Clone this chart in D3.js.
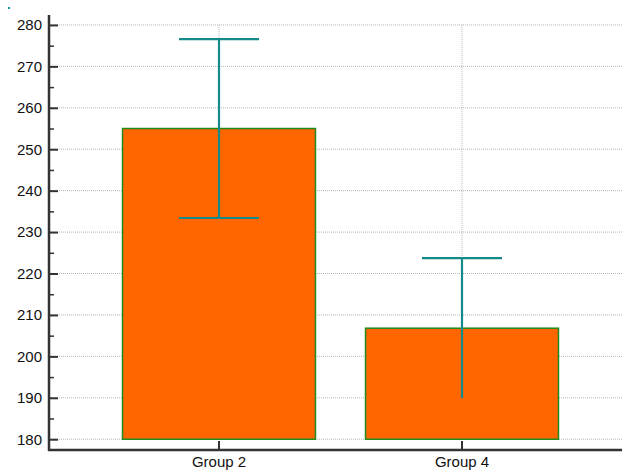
<!DOCTYPE html>
<html>
<head>
<meta charset="utf-8">
<script src="https://cdn.jsdelivr.net/npm/d3@7"></script>
<style>
  html, body { margin: 0; padding: 0; background: #fff; }
  svg { display: block; font-family: "Liberation Sans", Arial, sans-serif; }
</style>
</head>
<body>
<svg id="chart" width="622" height="473"></svg>
<script>
const groups = ["Group 2", "Group 4"];
const means = [255.0, 206.8];
const errors = [21.6, 16.9];
const lowerCaps = [true, false];
const yTicks = [180, 190, 200, 210, 220, 230, 240, 250, 260, 270, 280];
const yMinorTicks = [185, 195, 205, 215, 225, 235, 245, 255, 265, 275];
const baseValue = 180;

const svg = d3.select("#chart");
const W = 622, H = 473;
const axisX = 49, axisY = 450, topY = 15;

const y = d3.scaleLinear().domain([177.4, 282.4]).range([axisY, topY]);
const x = d3.scaleBand().domain(groups).range([97.5, 583.5]).paddingInner(0.206).paddingOuter(0.103);

const grid = svg.append("g");
grid.selectAll("line.h").data(yTicks).enter().append("line")
  .attr("x1", axisX).attr("x2", W)
  .attr("y1", d => y(d)).attr("y2", d => y(d))
  .attr("stroke", "#b4b4b4").attr("stroke-width", 1).attr("stroke-dasharray", "1,1");
grid.selectAll("line.v").data(groups).enter().append("line")
  .attr("x1", d => x(d) + x.bandwidth() / 2).attr("x2", d => x(d) + x.bandwidth() / 2)
  .attr("y1", y(yTicks[yTicks.length - 1])).attr("y2", y(yTicks[0]))
  .attr("stroke", "#b4b4b4").attr("stroke-width", 1).attr("stroke-dasharray", "1,1");

svg.append("g").selectAll("rect").data(groups).enter().append("rect")
  .attr("x", d => x(d))
  .attr("width", x.bandwidth())
  .attr("y", (d, i) => y(means[i]))
  .attr("height", (d, i) => y(baseValue) - y(means[i]))
  .attr("fill", "#ff6600")
  .attr("stroke", "#1e8a1e")
  .attr("stroke-width", 1.5);

const eb = svg.append("g").attr("stroke", "#168a8a").attr("stroke-width", 2.2).attr("fill", "none");
const capHalf = 40;
groups.forEach((g, i) => {
  const cx = x(g) + x.bandwidth() / 2;
  const hi = y(means[i] + errors[i]);
  const lo = y(means[i] - errors[i]);
  eb.append("line").attr("x1", cx).attr("x2", cx).attr("y1", hi).attr("y2", lo);
  eb.append("line").attr("x1", cx - capHalf).attr("x2", cx + capHalf).attr("y1", hi).attr("y2", hi);
  if (lowerCaps[i]) {
    eb.append("line").attr("x1", cx - capHalf).attr("x2", cx + capHalf).attr("y1", lo).attr("y2", lo);
  }
});

const yAxis = d3.axisLeft(y).tickValues(yTicks).tickSize(-9).tickPadding(7);
const gy = svg.append("g").attr("transform", `translate(${axisX},0)`).call(yAxis);
gy.select(".domain").remove();
gy.selectAll(".tick line").attr("stroke", "#333").attr("stroke-width", 2);
gy.selectAll(".tick text").attr("font-size", 15).attr("fill", "#111")
  .attr("font-family", "Liberation Sans, Arial, sans-serif");

const yMinor = d3.axisLeft(y).tickValues(yMinorTicks).tickSize(-5).tickFormat("");
const gym = svg.append("g").attr("transform", `translate(${axisX},0)`).call(yMinor);
gym.select(".domain").remove();
gym.selectAll(".tick line").attr("stroke", "#333").attr("stroke-width", 1.5);

const xAxis = d3.axisBottom(x).tickSize(-9).tickPadding(6);
const gx = svg.append("g").attr("transform", `translate(0,${axisY})`).call(xAxis);
gx.select(".domain").remove();
gx.selectAll(".tick line").attr("stroke", "#333").attr("stroke-width", 2);
gx.selectAll(".tick text").attr("font-size", 15).attr("fill", "#111")
  .attr("font-family", "Liberation Sans, Arial, sans-serif");

svg.append("line").attr("x1", axisX).attr("x2", axisX).attr("y1", topY).attr("y2", axisY + 1)
  .attr("stroke", "#333").attr("stroke-width", 2.5);
svg.append("line").attr("x1", axisX - 1).attr("x2", W).attr("y1", axisY).attr("y2", axisY)
  .attr("stroke", "#333").attr("stroke-width", 2.5);

svg.append("rect").attr("x", 8).attr("y", 7).attr("width", 2).attr("height", 2).attr("fill", "#1a9a9a");
</script>
</body>
</html>
